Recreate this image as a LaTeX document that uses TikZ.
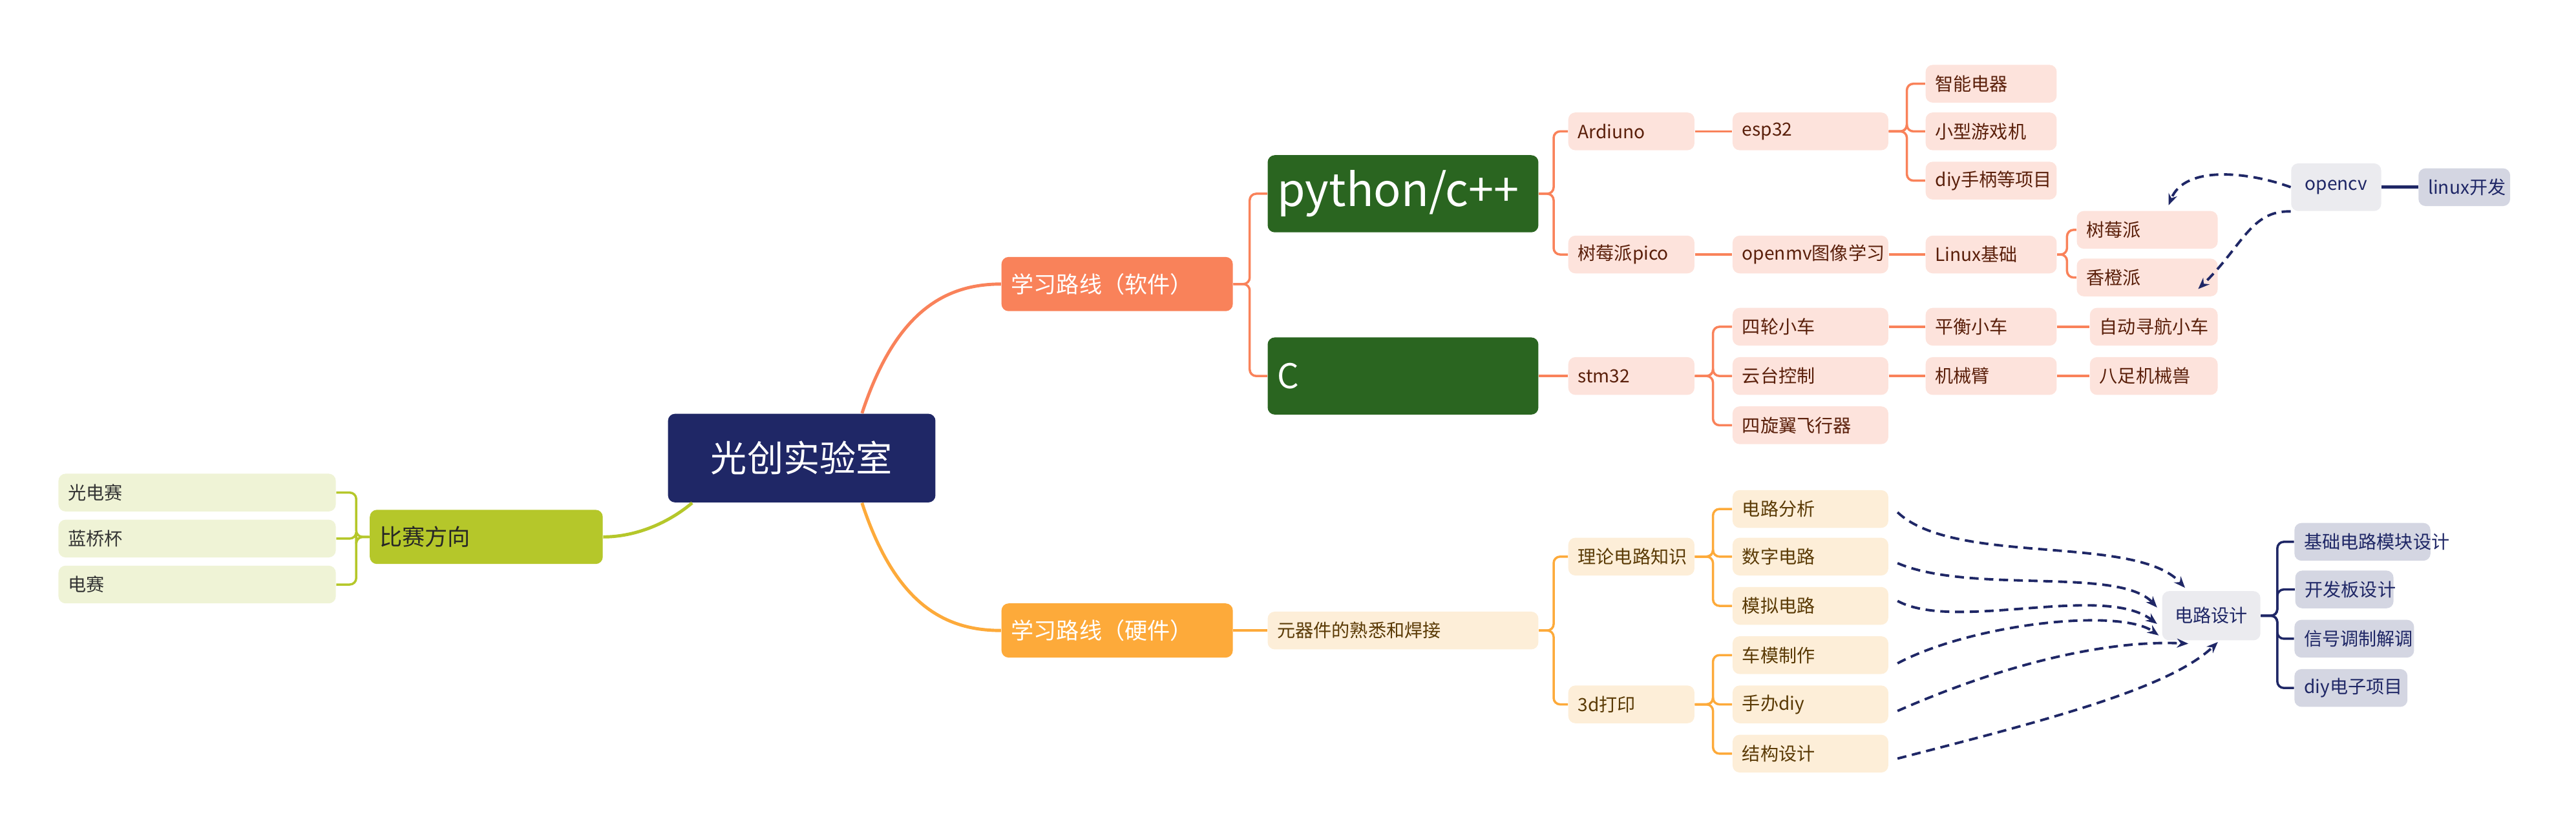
\documentclass[tikz,border=0pt]{standalone}
\usepackage{fontspec}
\setmainfont{Noto Sans CJK SC}
\usetikzlibrary{arrows.meta}
\definecolor{navy}{HTML}{1F2766}
\definecolor{lime}{HTML}{B5C72A}
\definecolor{limel}{HTML}{EFF3D6}
\definecolor{coral}{HTML}{F9825A}
\definecolor{pink}{HTML}{FDE3DC}
\definecolor{brown}{HTML}{5A1F0A}
\definecolor{orng}{HTML}{FDAA3A}
\definecolor{orngl}{HTML}{FDEED8}
\definecolor{obrown}{HTML}{5A3A05}
\definecolor{dgreen}{HTML}{2A6520}
\definecolor{grayl}{HTML}{EBEBEF}
\definecolor{grayd}{HTML}{D4D6E2}
\tikzset{
 bx/.style 2 args={rounded corners=0.11cm,inner xsep=0.15cm,inner ysep=0pt,
   minimum height=#2*0.02542cm,text width=(#1-12)*0.02542cm,align=left},
 sp/.style={bx={#1}{23},fill=pink,text=brown,font=\fontsize{8}{9}\selectfont},
 hw/.style={bx={#1}{23},fill=orngl,text=obrown,font=\fontsize{8}{9}\selectfont},
 cp/.style={bx={#1}{23},fill=limel,text=black!80,font=\fontsize{8}{9}\selectfont},
 nv/.style={bx={#1}{23},fill=grayd,text=navy,font=\fontsize{8}{9}\selectfont},
 sl/.style={coral,line width=1pt,rounded corners=0.1cm},
 hl/.style={orng,line width=1pt,rounded corners=0.1cm},
 nl/.style={navy,line width=1pt,rounded corners=0.1cm},
 da/.style={navy,line width=1.1pt,dash pattern=on 4pt off 2.5pt,-{Stealth[length=5pt,width=4pt]}},
}
\begin{document}
\begin{tikzpicture}[x=0.02542cm,y=-0.02542cm]
\useasboundingbox (0,0) rectangle (1568,510.6);
% root
\node[bx={163}{54},fill=navy,text=white,font=\fontsize{16}{18}\selectfont,align=center] (root) at (488,279) {光创实验室};
\node[bx={142}{33},fill=lime,text=black!85,font=\fontsize{10}{12}\selectfont] (comp) at (296,327) {比赛方向};
\node[cp=169] (c1) at (120,300) {光电赛};
\node[cp=169] (c2) at (120,328) {蓝桥杯};
\node[cp=169] (c3) at (120,356) {电赛};
\node[bx={141}{33},fill=coral,text=white,font=\fontsize{10}{12}\selectfont] (sw) at (680,173) {学习路线（软件）};
\node[bx={141}{33},fill=orng,text=white,font=\fontsize{10}{12}\selectfont] (hwb) at (680,384) {学习路线（硬件）};
% software
\node[bx={165}{47},fill=dgreen,text=white,font=\fontsize{20}{22}\selectfont] (py) at (854,118) {python/c++};
\node[bx={165}{47},fill=dgreen,text=white,font=\fontsize{15}{18}\selectfont] (cc) at (854,229) {C};
\node[sp=77] (ard) at (993,80) {Ardiuno};
\node[sp=95] (esp) at (1102,80) {esp32};
\node[sp=80] (e1) at (1212,51) {智能电器};
\node[sp=80] (e2) at (1212,80) {小型游戏机};
\node[sp=80] (e3) at (1212,110) {diy手柄等项目};
\node[sp=77] (pico) at (993,155) {树莓派pico};
\node[sp=95] (omv) at (1102,155) {openmv图像学习};
\node[sp=80] (lin) at (1212,155) {Linux基础};
\node[sp=86] (rp) at (1307,140) {树莓派};
\node[sp=86] (op) at (1307,169) {香橙派};
\node[bx={55}{29},fill=grayl,text=navy,font=\fontsize{8}{9}\selectfont,align=center] (cv) at (1422,114) {opencv};
\node[nv=56] (ld) at (1500,114) {linux开发};
\node[sp=77] (stm) at (993,229) {stm32};
\node[sp=95] (s1) at (1102,199) {四轮小车};
\node[sp=95] (s2) at (1102,229) {云台控制};
\node[sp=95] (s3) at (1102,259) {四旋翼飞行器};
\node[sp=80] (t1) at (1212,199) {平衡小车};
\node[sp=80] (t2) at (1212,229) {机械臂};
\node[sp=78] (u1) at (1311,199) {自动寻航小车};
\node[sp=78] (u2) at (1311,229) {八足机械兽};
% hardware
\node[hw=165] (yq) at (854,384) {元器件的熟悉和焊接};
\node[hw=77] (ll) at (993,339) {理论电路知识};
\node[hw=77] (dp) at (993,429) {3d打印};
\node[hw=95] (h1) at (1102,310) {电路分析};
\node[hw=95] (h2) at (1102,339) {数字电路};
\node[hw=95] (h3) at (1102,369) {模拟电路};
\node[hw=95] (h4) at (1102,399) {车模制作};
\node[hw=95] (h5) at (1102,429) {手办diy};
\node[hw=95] (h6) at (1102,459) {结构设计};
\node[bx={60}{30},fill=grayl,text=navy,font=\fontsize{8}{9}\selectfont,align=center] (dl) at (1346,375) {电路设计};
\node[nv=83] (d1) at (1438,330) {基础电路模块设计};
\node[nv=60] (d2) at (1427,359) {开发板设计};
\node[nv=73] (d3) at (1433,389) {信号调制解调};
\node[nv=69] (d4) at (1431,419) {diy电子项目};
% main curves
\draw[coral,line width=1.4pt] (root.north east)++(-45,0) .. controls (545,190) and (575,173) .. (sw.west);
\draw[orng,line width=1.4pt] (root.south east)++(-45,0) .. controls (545,368) and (575,384) .. (hwb.west);
\draw[lime,line width=1.4pt] (root.south west)++(15,0) .. controls (405,320) and (385,327) .. (comp.east);
% competition
\foreach \n in {c1,c2,c3} \draw[lime,line width=1pt,rounded corners=0.1cm] (comp.west) -- ++(-8,0) |- (\n.east);
% software
\foreach \n in {py,cc} \draw[sl] (sw.east) -- ++(10,0) |- (\n.west);
\foreach \n in {ard,pico} \draw[sl] (py.east) -- ++(9,0) |- (\n.west);
\draw[sl] (ard) -- (esp);
\foreach \n in {e1,e2,e3} \draw[sl] (esp.east) -- ++(11,0) |- (\n.west);
\draw[sl] (pico) -- (omv); \draw[sl] (omv) -- (lin);
\foreach \n in {rp,op} \draw[sl] (lin.east) -- ++(6,0) |- (\n.west);
\draw[sl] (cc) -- (stm);
\foreach \n in {s1,s2,s3} \draw[sl] (stm.east) -- ++(11,0) |- (\n.west);
\draw[sl] (s1) -- (t1); \draw[sl] (t1) -- (u1);
\draw[sl] (s2) -- (t2); \draw[sl] (t2) -- (u2);
\draw[nl,line width=1.4pt] (cv) -- (ld);
\draw[da] (cv.west) .. controls (1370,105) and (1330,100) .. (1320,125);
\draw[da] (cv.south west) .. controls (1370,128) and (1365,150) .. (1338,176);
% hardware
\draw[hl] (hwb) -- (yq);
\foreach \n in {ll,dp} \draw[hl] (yq.east) -- ++(9,0) |- (\n.west);
\foreach \n in {h1,h2,h3} \draw[hl] (ll.east) -- ++(11,0) |- (\n.west);
\foreach \n in {h4,h5,h6} \draw[hl] (dp.east) -- ++(11,0) |- (\n.west);
\draw[da] (1155,312) .. controls (1190,345) and (1300,325) .. (1330,358);
\draw[da] (1155,343) .. controls (1200,362) and (1290,345) .. (1313,370);
\draw[da] (1155,366) .. controls (1190,385) and (1280,355) .. (1313,380);
\draw[da] (1155,404) .. controls (1200,380) and (1290,370) .. (1314,387);
\draw[da] (1155,433) .. controls (1230,400) and (1290,390) .. (1332,392);
\draw[da] (1155,462) .. controls (1240,440) and (1320,420) .. (1350,391);
\foreach \n in {d1,d2,d3,d4} \draw[nl] (dl.east) -- ++(10,0) |- (\n.west);
\end{tikzpicture}
\end{document}
